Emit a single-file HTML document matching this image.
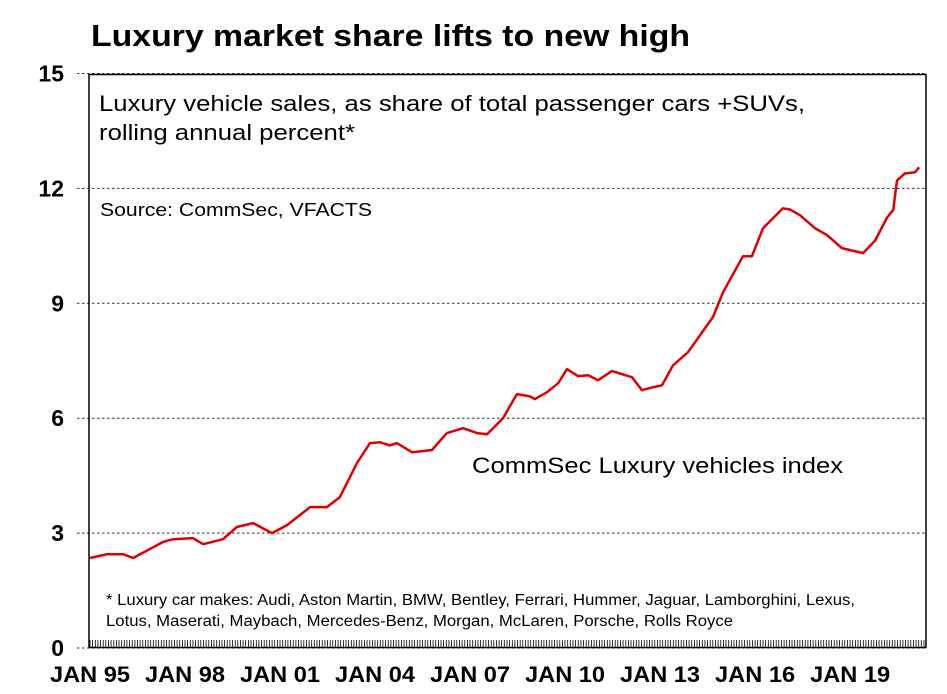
<!DOCTYPE html>
<html><head><meta charset="utf-8"><style>
html,body{margin:0;padding:0;background:#fff;}
svg{display:block;font-family:"Liberation Sans",Arial,sans-serif;}
</style></head><body>
<svg id="chart" width="947" height="694" viewBox="0 0 947 694" xmlns="http://www.w3.org/2000/svg">
<text x="91" y="46" font-size="31" font-weight="bold" fill="#000" textLength="599" lengthAdjust="spacingAndGlyphs">Luxury market share lifts to new high</text>
<g id="grid"></g>
<g id="yticks"></g>
<g id="xticks"></g>
<rect x="89" y="74.5" width="837" height="573" fill="none" stroke="#000" stroke-width="1.5"/>
<text x="99" y="111" font-size="22.5" fill="#000" textLength="706" lengthAdjust="spacingAndGlyphs">Luxury vehicle sales, as share of total passenger cars +SUVs,</text>
<text x="99" y="140" font-size="22.5" fill="#000" textLength="256" lengthAdjust="spacingAndGlyphs">rolling annual percent*</text>
<text x="100" y="216" font-size="18" fill="#000" textLength="272" lengthAdjust="spacingAndGlyphs">Source: CommSec, VFACTS</text>
<text x="472" y="473" font-size="22.5" fill="#000" textLength="371" lengthAdjust="spacingAndGlyphs">CommSec Luxury vehicles index</text>
<text x="106" y="605" font-size="15.5" fill="#000" textLength="749" lengthAdjust="spacingAndGlyphs">* Luxury car makes: Audi, Aston Martin, BMW, Bentley, Ferrari, Hummer, Jaguar, Lamborghini, Lexus,</text>
<text x="106" y="626" font-size="15.5" fill="#000" textLength="627" lengthAdjust="spacingAndGlyphs">Lotus, Maserati, Maybach, Mercedes-Benz, Morgan, McLaren, Porsche, Rolls Royce</text>
<path id="line" fill="none" stroke="#e00000" stroke-width="2.5" stroke-linejoin="round"/>
</svg>
<script>
const dates = [1995.0,1995.54,1996.04,1996.36,1997.31,1997.62,1998.25,1998.57,1999.2,1999.64,2000.15,2000.75,2001.22,2001.95,2002.48,2002.89,2003.43,2003.84,2004.16,2004.47,2004.69,2005.17,2005.8,2006.27,2006.78,2007.22,2007.54,2008.04,2008.48,2008.89,2009.05,2009.43,2009.78,2010.06,2010.41,2010.73,2011.04,2011.48,2012.11,2012.43,2012.78,2013.06,2013.41,2013.88,2014.67,2014.99,2015.62,2015.9,2016.25,2016.88,2017.1,2017.42,2017.89,2018.27,2018.74,2019.41,2019.79,2020.17,2020.36,2020.48,2020.73,2021.05,2021.18];
const values = [2.35,2.45,2.45,2.35,2.77,2.84,2.87,2.71,2.84,3.16,3.26,3.0,3.21,3.68,3.68,3.94,4.83,5.35,5.37,5.29,5.35,5.11,5.17,5.61,5.74,5.61,5.58,6.0,6.63,6.57,6.5,6.68,6.91,7.28,7.1,7.12,6.99,7.23,7.07,6.73,6.81,6.86,7.38,7.72,8.64,9.29,10.23,10.23,10.96,11.48,11.45,11.3,10.96,10.78,10.44,10.31,10.64,11.24,11.43,12.21,12.39,12.42,12.55];
const yTicks = [0,3,6,9,12,15];
const xTickYears = [1995,1998,2001,2004,2007,2010,2013,2016,2019];
const xTickLabels = ["JAN 95","JAN 98","JAN 01","JAN 04","JAN 07","JAN 10","JAN 13","JAN 16","JAN 19"];

const NS = "http://www.w3.org/2000/svg";
const X = yr => 90 + (yr - 1995) * 31.67;
const Y = v => 648 - v * 38.3;

const grid = document.getElementById('grid');
const yt = document.getElementById('yticks');
yTicks.forEach(v => {
  const l = document.createElementNS(NS, 'line');
  
  
  l.setAttribute('x1', 77); l.setAttribute('x2', 926);
  l.setAttribute('y1', Y(v)); l.setAttribute('y2', Y(v));
  l.setAttribute('stroke', '#333'); l.setAttribute('stroke-width', '1');
  l.setAttribute('stroke-dasharray', '2.5,2.5');
  grid.appendChild(l);
  const t = document.createElementNS(NS, 'text');
  
  
  t.setAttribute('x', 64); t.setAttribute('y', Y(v) + 8);
  t.setAttribute('text-anchor', 'end');
  t.setAttribute('font-size', '23'); t.setAttribute('font-weight', 'bold');
  t.textContent = v;
  yt.appendChild(t);
});

const xt = document.getElementById('xticks');
let d = '';
for (let m = 0; m <= 26 * 12 + 4; m++) {
  const x = X(1995 + m / 12);
  if (x > 925) break;
  d += 'M' + x.toFixed(1) + ' 640V647';
}
const tk = document.createElementNS(NS, 'path');


tk.setAttribute('d', d); tk.setAttribute('stroke', '#000'); tk.setAttribute('stroke-width', '0.8');
xt.appendChild(tk);
xTickYears.forEach((yr, i) => {
  const t = document.createElementNS(NS, 'text');
  
  
  t.setAttribute('x', X(yr)); t.setAttribute('y', 682);
  t.setAttribute('text-anchor', 'middle');
  t.setAttribute('font-size', '22'); t.setAttribute('font-weight', 'bold');
  t.setAttribute('textLength', '80');
  t.setAttribute('lengthAdjust', 'spacingAndGlyphs');
  t.textContent = xTickLabels[i];
  xt.appendChild(t);
});

document.getElementById('line').setAttribute('d',
  dates.map((yr, i) => (i ? 'L' : 'M') + X(yr).toFixed(1) + ' ' + Y(values[i]).toFixed(1)).join(''));
</script>
</body></html>
